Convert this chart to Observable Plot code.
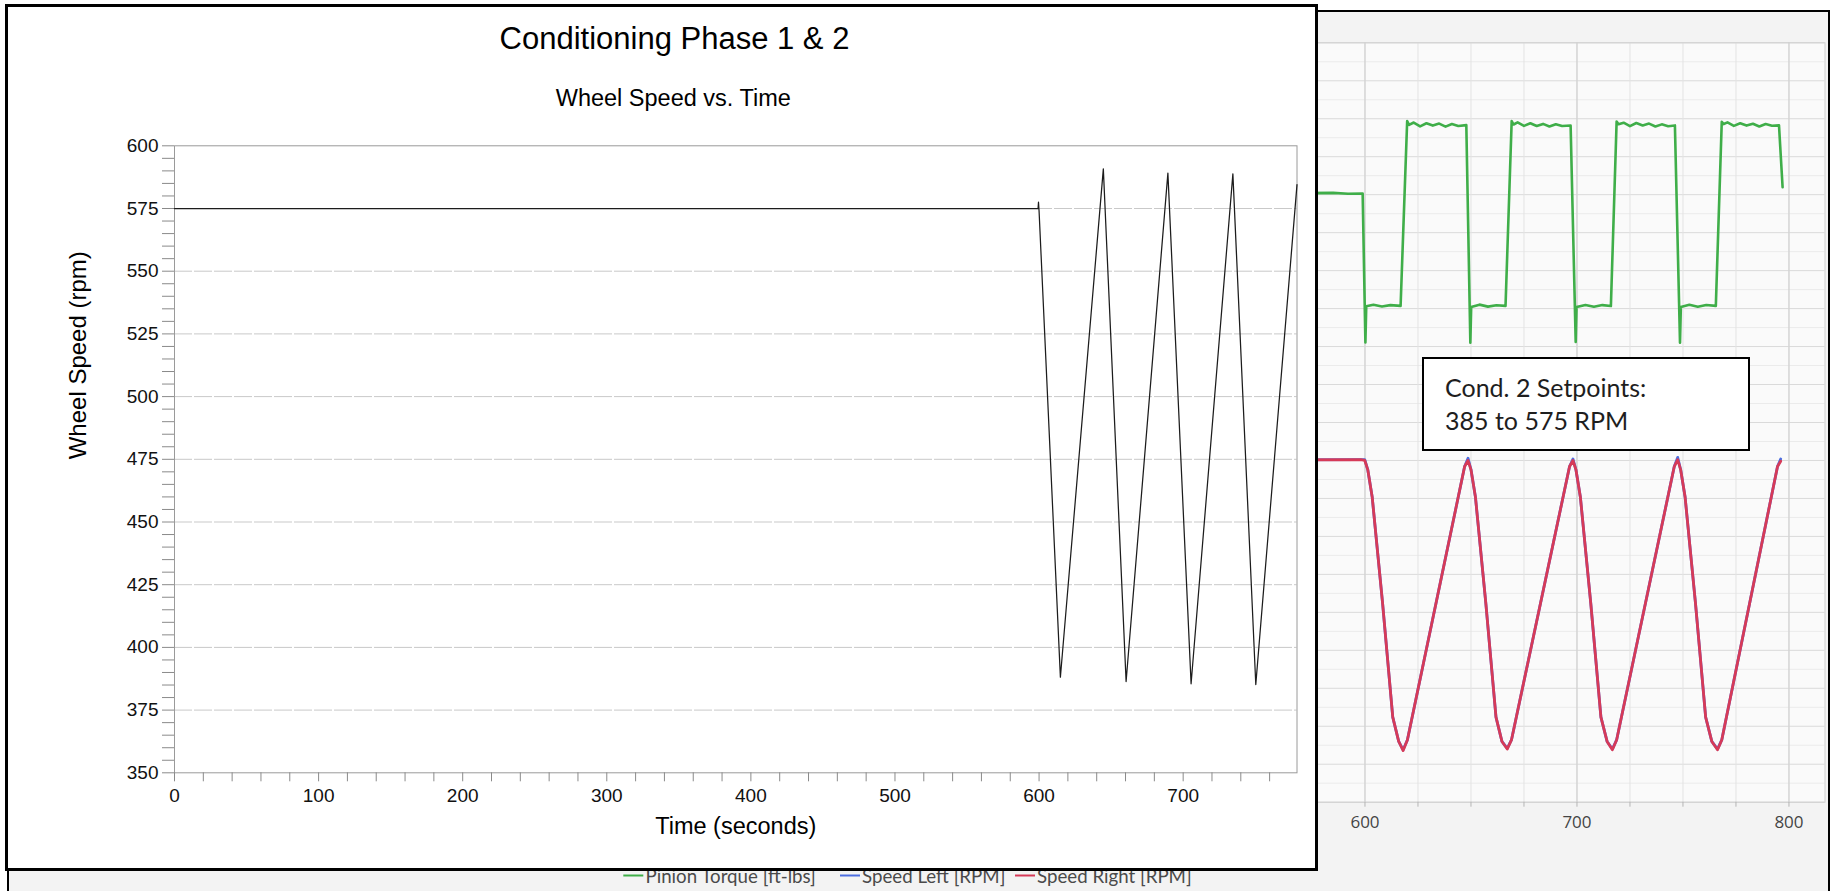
<!DOCTYPE html>
<html>
<head>
<meta charset="utf-8">
<script src="https://cdn.jsdelivr.net/npm/d3@7"></script>
<script src="https://cdn.jsdelivr.net/npm/@observablehq/plot@0.6"></script>
<style>
  html, body { margin: 0; padding: 0; background: #fff; width: 1836px; height: 891px; overflow: hidden; position: relative; }
  #panel { position: absolute; left: 7px; top: 9.5px; width: 1823.3px; height: 900px; box-sizing: border-box; border: 2.5px solid #000; background: #f3f3f3; z-index: 1; }
  #right, #torque { position: absolute; left: 1000px; top: 0; }
  #right { z-index: 2; }
  #torque { z-index: 3; }
  #note { position: absolute; left: 1422px; top: 356.5px; width: 327.5px; height: 94.5px; box-sizing: border-box; border: 2.3px solid #000; background: #fff; z-index: 4; }
  #overlay { position: absolute; left: 0; top: 0; z-index: 5; }
  #leftframe { position: absolute; left: 4.5px; top: 3.5px; width: 1313.5px; height: 867.5px; box-sizing: border-box; border: 3px solid #000; background: #fff; z-index: 6; }
  #left { position: absolute; left: 0; top: 0; z-index: 7; }
</style>
</head>
<body>
<div id="panel"></div>
<div id="right"></div>
<div id="torque"></div>
<div id="note"></div>
<svg id="overlay" width="1836" height="891" xmlns="http://www.w3.org/2000/svg">
  <g font-family="Lato, 'Open Sans', sans-serif" font-size="25" fill="#1e1e1e">
    <text x="1445" y="396.7">Cond. 2 Setpoints:</text>
    <text x="1445" y="430">385 to 575 RPM</text>
  </g>
  <g id="legend" font-family="Lato, 'Open Sans', sans-serif" font-size="18.7" fill="#4a4a4a"></g>
</svg>
<div id="leftframe"></div>
<div id="left"></div>
<script>
// ---------- Left chart: Conditioning Phase 1 & 2 ----------
const leftTime  = [0, 599.3, 599.6, 600.0, 614.8, 644.6, 660.4, 689.4, 705.5, 734.5, 750.4, 779];
const leftSpeed = [575, 575, 577.5, 574, 388.1, 590.8, 386.4, 589.1, 385.5, 588.8, 385.2, 584.5];
const leftYTicks = [350, 375, 400, 425, 450, 475, 500, 525, 550, 575, 600];
const leftXTicks = [0, 100, 200, 300, 400, 500, 600, 700];
const leftGrid = [375, 400, 425, 450, 475, 500, 525, 550, 575];
const leftTitle = "Conditioning Phase 1 & 2";
const leftSubtitle = "Wheel Speed vs. Time";
const leftXLabel = "Time (seconds)";
const leftYLabel = "Wheel Speed (rpm)";

// ---------- Right chart: logger screenshot ----------
const rightTime = [450, 598, 599.9, 601.3, 603.4, 608.3, 613.1, 615.9, 618.0, 620.0,
  647.0, 648.6, 650.0, 652.1, 657.0, 661.8, 664.6, 667.1, 669.1,
  696.5, 698.1, 699.5, 701.6, 706.5, 711.3, 714.2, 716.7, 718.7,
  745.9, 747.5, 748.9, 751.0, 755.9, 760.7, 763.6, 766.3, 768.3,
  794.6, 796.1];
const speedRight = [575, 575.5, 575, 569, 551, 481, 406, 390, 384, 391,
  571, 575, 569, 551, 481, 406, 390, 385, 391,
  571, 575, 569, 551, 481, 406, 390, 384.5, 391,
  571, 575.5, 569, 551, 481, 406, 390, 384.5, 391,
  571, 574.5];
const speedLeft = [575, 575.5, 575.5, 569, 551, 481, 406, 390, 384.5, 391,
  571, 576.5, 569, 551, 481, 406, 390, 385.5, 391,
  571, 576, 569, 551, 481, 406, 390, 385, 391,
  571, 577, 569, 551, 481, 406, 390, 385, 391,
  571, 576];

const torqueTime = [450, 520, 585, 592, 598.9, 600.2, 600.6, 604, 608, 612, 616.8,
  619.9, 620.8, 623, 626, 629, 632, 635, 638, 641, 644, 647.8, 649.7, 650.1, 654, 658, 662, 666.3,
  669.2, 670.1, 672, 675, 678, 681, 684, 687, 690, 693, 697.0, 699.4, 699.8, 704, 708, 712, 716.0,
  718.7, 719.6, 722, 725, 728, 731, 734, 737, 740, 743, 746.2, 748.6, 749.0, 753, 757, 761, 765.5,
  768.3, 769.2, 771, 774, 777, 780, 783, 786, 789, 792, 795.3, 797.0];
const torque = [200.8, 200.5, 201.2, 200.6, 200.8, 102.7, 126.5, 127.5, 126.4, 127.3, 126.8,
  248.5, 246, 247.5, 245, 247, 245.5, 246.8, 244.8, 246.5, 245.2, 245.8, 102.5, 126, 127.6, 126.3, 127.2, 126.8,
  248.5, 246.2, 247.6, 245.3, 247, 245.2, 246.6, 244.9, 246.4, 245.2, 245.5, 103, 126, 127.4, 126.2, 127.3, 126.7,
  248.2, 246.4, 247.4, 245.1, 247.2, 245.6, 246.8, 244.9, 246.3, 245.1, 245.6, 102.5, 126, 127.5, 126.2, 127.4, 126.8,
  248, 246.5, 247.6, 245.3, 247, 245.5, 246.7, 244.9, 246.5, 245.4, 245.6, 204.9];

const rightXTicks = [600, 700, 800];
const rightMinorX = [450, 475, 500, 525, 550, 575, 600, 625, 650, 675, 700, 725, 750, 775, 800];
const rightMajorX = [500, 600, 700, 800];
const rightMajorY = d3.range(350, 851, 25);
const rightMinorY = d3.range(362.5, 851, 25);

const legendNames = ["Pinion Torque [ft-lbs]", "Speed Left [RPM]", "Speed Right [RPM]"];
const legendColors = ["#3fae49", "#4c6ee0", "#d63a58"];
const legendLineX = [623.3, 840, 1015];
const legendTextX = [645.5, 862, 1037];

// ---------- Left plot ----------
const leftPlot = Plot.plot({
  width: 1320, height: 871,
  marginLeft: 174, marginRight: 23.5, marginTop: 145.3, marginBottom: 98.7,
  x: {domain: [0, 779]},
  y: {domain: [350, 600]},
  style: {fontFamily: "'Liberation Sans', Arial, sans-serif", fontSize: "19px", background: "transparent", color: "#111", overflow: "visible"},
  marks: [
    Plot.ruleY(leftGrid, {stroke: "#c9c9c9", strokeWidth: 1, strokeDasharray: "18 2"}),
    Plot.frame({stroke: "#9a9a9a"}),
    Plot.axisY(d3.range(350, 601, 5), {tickSize: 12, tickFormat: () => "", stroke: "#8a8a8a", label: null}),
    Plot.axisY(leftYTicks, {tickSize: 0, tickPadding: 16, label: null, fill: "#111"}),
    Plot.axisX(d3.range(0, 779, 20), {tickSize: 9, tickFormat: () => "", stroke: "#8a8a8a", label: null}),
    Plot.axisX(leftXTicks, {tickSize: 0, tickPadding: 16, label: null, fill: "#111"}),
    Plot.line(leftTime, {x: leftTime, y: leftSpeed, stroke: "#1c1c1c", strokeWidth: 1.25}),
    Plot.text([leftTitle], {frameAnchor: "top", dx: -61.3, dy: -119.2, fontSize: 31, fill: "#000"}),
    Plot.text([leftSubtitle], {frameAnchor: "top", dx: -62.5, dy: -56.1, fontSize: 23.5, fill: "#000"}),
    Plot.text([leftXLabel], {frameAnchor: "bottom", dy: 60.7, fontSize: 23.5, fill: "#000"}),
    Plot.text([leftYLabel], {frameAnchor: "left", dx: -95.7, rotate: -90, fontSize: 24, fill: "#000"})
  ]
});
document.getElementById("left").appendChild(leftPlot);

// ---------- Right plot (speeds) ----------
const rightPlot = Plot.plot({
  width: 836, height: 891,
  marginLeft: 46.5, marginRight: 11.5, marginTop: 42.3, marginBottom: 89.3,
  x: {domain: [450, 817]},
  y: {domain: [350, 850]},
  style: {fontFamily: "'Open Sans', 'Noto Sans', sans-serif", fontSize: "17px", background: "transparent", color: "#444", overflow: "visible"},
  marks: [
    Plot.frame({fill: "#fafafa", stroke: null}),
    Plot.ruleY(rightMinorY, {stroke: "#ebebeb"}),
    Plot.ruleY(rightMajorY, {stroke: "#dadada"}),
    Plot.ruleX(rightMinorX, {stroke: "#e3e3e3"}),
    Plot.ruleX(rightMajorX, {stroke: "#cdcdcd"}),
    Plot.frame({stroke: "#cfcfcf"}),
    Plot.axisX(rightMinorX, {tickSize: 5, tickFormat: () => "", stroke: "#b5b5b5", label: null}),
    Plot.axisX(rightXTicks, {tickSize: 0, tickPadding: 14, label: null, fill: "#444"}),
    Plot.axisY(rightMajorY, {tickSize: 0, tickFormat: () => "", label: null}),
    Plot.line(rightTime, {x: rightTime, y: speedLeft, stroke: "#4c6ee0", strokeWidth: 2.8}),
    Plot.line(rightTime, {x: rightTime, y: speedRight, stroke: "#d63a58", strokeWidth: 2.8})
  ]
});
document.getElementById("right").appendChild(rightPlot);

// ---------- Right plot (torque, own scale, no axes) ----------
const torquePlot = Plot.plot({
  width: 836, height: 891,
  marginLeft: 46.5, marginRight: 11.5, marginTop: 42.3, marginBottom: 89.3,
  x: {domain: [450, 817], axis: null},
  y: {domain: [-200, 300], axis: null},
  style: {background: "transparent", overflow: "visible"},
  marks: [
    Plot.line(torqueTime, {x: torqueTime, y: torque, stroke: "#3fae49", strokeWidth: 2.6})
  ]
});
document.getElementById("torque").appendChild(torquePlot);

// ---------- Legend (below the left chart frame, partly covered) ----------
const NS = "http://www.w3.org/2000/svg";
const lg = document.getElementById("legend");
legendNames.forEach((name, i) => {
  const ln = document.createElementNS(NS, "line");
  ln.setAttribute("x1", legendLineX[i]);
  ln.setAttribute("x2", legendLineX[i] + 20);
  ln.setAttribute("y1", 875.5);
  ln.setAttribute("y2", 875.5);
  ln.setAttribute("stroke", legendColors[i]);
  ln.setAttribute("stroke-width", 2);
  lg.appendChild(ln);
  const t = document.createElementNS(NS, "text");
  t.setAttribute("x", legendTextX[i]);
  t.setAttribute("y", 883);
  t.textContent = name;
  lg.appendChild(t);
});
</script>
</body>
</html>
